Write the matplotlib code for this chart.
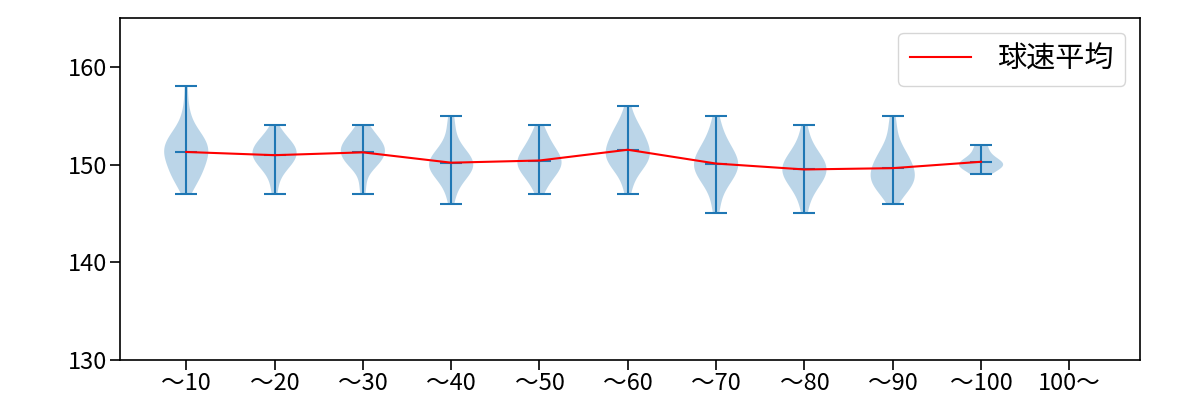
import numpy as np
import matplotlib
matplotlib.use("Agg")
import matplotlib.pyplot as plt

plt.rcParams['font.family'] = ['Noto Sans CJK JP', 'DejaVu Sans']

categories = ["～10", "～20", "～30", "～40", "～50", "～60", "～70", "～80", "～90", "～100", "100～"]

# speed (km/h) -> pitch counts, per category
speeds_10 = [147, 148, 149, 150, 151, 152, 153, 154, 155, 156, 157, 158]
counts_10 = [1, 3, 5, 5, 7, 7, 5, 2, 1, 1, 0, 1]
speeds_20 = [147, 148, 149, 150, 151, 152, 153, 154]
counts_20 = [1, 1, 2, 5, 7, 6, 3, 1]
speeds_30 = [147, 148, 149, 150, 151, 152, 153, 154]
counts_30 = [1, 1, 1, 5, 7, 7, 4, 2]
speeds_40 = [146, 147, 148, 149, 150, 151, 152, 153, 154, 155]
counts_40 = [1, 1, 2, 5, 7, 5, 2, 1, 1, 1]
speeds_50 = [147, 148, 149, 150, 151, 152, 153, 154]
counts_50 = [1, 2, 4, 6, 5, 3, 2, 1]
speeds_60 = [147, 148, 149, 150, 151, 152, 153, 154, 155, 156]
counts_60 = [1, 1, 2, 5, 6, 5, 4, 3, 1, 1]
speeds_70 = [145, 146, 147, 148, 149, 150, 151, 152, 153, 154, 155]
counts_70 = [1, 1, 1, 3, 5, 6, 5, 3, 2, 1, 1]
speeds_80 = [145, 146, 147, 148, 149, 150, 151, 152, 153, 154]
counts_80 = [1, 1, 2, 4, 6, 6, 4, 2, 1, 1]
speeds_90 = [146, 147, 148, 149, 150, 151, 152, 153, 154, 155]
counts_90 = [1, 3, 6, 6, 5, 4, 2, 1, 1, 1]
speeds_100 = [149, 150, 151, 152]
counts_100 = [1, 4, 1, 1]

groups = [
    (speeds_10, counts_10), (speeds_20, counts_20), (speeds_30, counts_30),
    (speeds_40, counts_40), (speeds_50, counts_50), (speeds_60, counts_60),
    (speeds_70, counts_70), (speeds_80, counts_80), (speeds_90, counts_90),
    (speeds_100, counts_100),
]
data = [np.repeat(s, c).astype(float) for s, c in groups]
positions = np.arange(1, len(data) + 1)
means = [d.mean() for d in data]

fig, ax = plt.subplots(figsize=(12, 4), dpi=100)
fig.subplots_adjust(left=0.1, right=0.95, top=0.955, bottom=0.1)

parts = ax.violinplot(data, positions=positions, showmeans=True)
for key in ('cbars', 'cmins', 'cmaxes', 'cmeans'):
    parts[key].set_linewidth(1.5)
ax.plot(positions, means, color='red', lw=1.5, label='球速平均')

ax.set_xticks(np.arange(1, len(categories) + 1))
ax.set_xticklabels(categories)
ax.set_xlim(0.25, 11.8)
ax.set_ylim(130, 165)
ax.set_yticks([130, 140, 150, 160])
for s in ax.spines.values():
    s.set_linewidth(1.2)
ax.tick_params(labelsize=17, length=7, width=1.2, pad=2)
ax.legend(loc='upper right', fontsize=21, handlelength=2.1, handletextpad=0.9,
          borderaxespad=0.5)

fig.savefig("out.png")
